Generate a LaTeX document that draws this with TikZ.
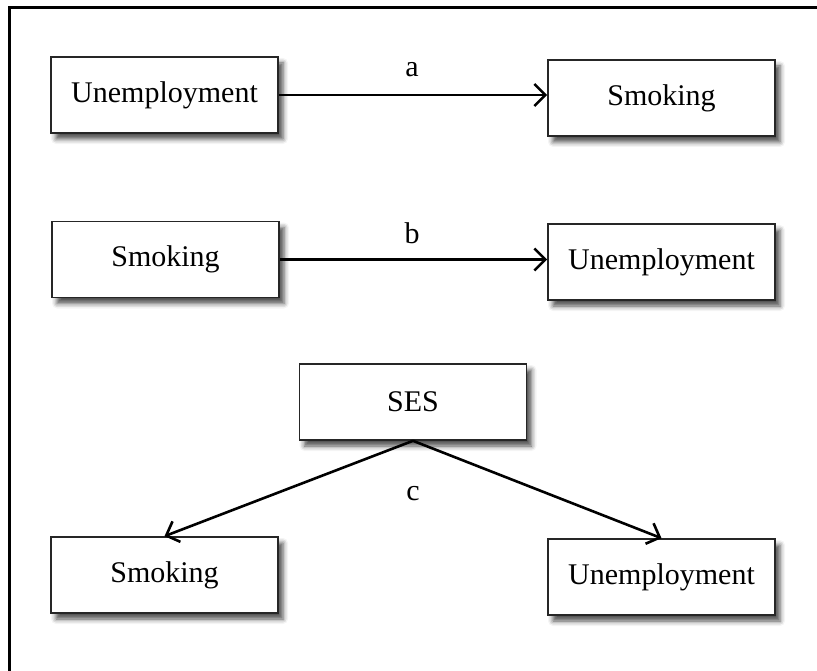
\documentclass[tikz,border=0pt]{standalone}
\usepackage{fontspec}
\setmainfont{Liberation Serif}
\usetikzlibrary{arrows.meta,shadows.blur}
\begin{document}
\begin{tikzpicture}[x=1pt,y=-1pt,
  varbox/.style={draw=black!85, line width=1.6pt, fill=white, minimum width=227pt, minimum height=76pt, inner sep=0pt,
    font=\fontsize{30}{35}\selectfont,
    blur shadow={shadow xshift=5pt, shadow yshift=-6pt, shadow blur radius=5pt, shadow opacity=70}},
  lbl/.style={font=\fontsize{30}{35}\selectfont, inner sep=0pt},
  arr/.style={line width=2.6pt, -{Straight Barb[length=11pt,width=22pt,line width=2.6pt]}},
  frame/.style={line width=3pt, line cap=rect}]
\useasboundingbox (0,0) rectangle (817,671);
\coordinate (ftl) at (9,8);
\coordinate (ftr) at (817,8);
\coordinate (fbl) at (9,671);
\draw[frame] (ftr) -- (ftl) -- (fbl);
% row a
\node[varbox] (u1) at (164.5,95) {Unemployment};
\node[varbox] (s1) at (661.5,98) {Smoking};
\draw[arr] (u1.east) -- (u1.east -| s1.west);
\node[lbl] (la) at (412,70) {a};
% row b
\node[varbox] (s2) at (165.5,259.5) {Smoking};
\node[varbox] (u2) at (661.5,262) {Unemployment};
\draw[arr] (s2.east) -- (s2.east -| u2.west);
\node[lbl] (lb) at (412,233) {b};
% row c
\node[varbox] (ses) at (413,402) {SES};
\node[varbox] (s3) at (164.5,575) {Smoking};
\node[varbox] (u3) at (661.5,577) {Unemployment};
\draw[arr] (ses.south) -- (s3.north);
\draw[arr] (ses.south) -- (u3.north);
\node[lbl] (lc) at (413,494) {c};
\end{tikzpicture}
\end{document}
